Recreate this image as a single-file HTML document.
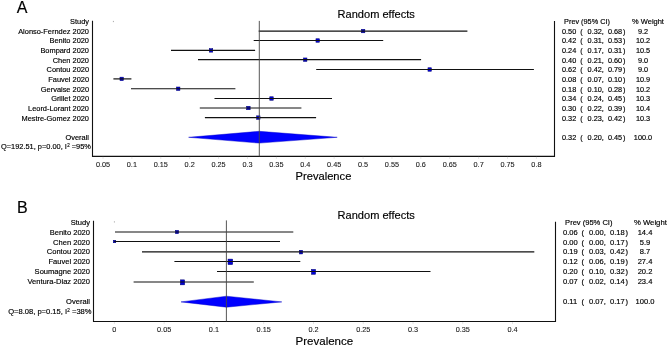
<!DOCTYPE html>
<html><head><meta charset="utf-8"><style>
html,body{margin:0;padding:0;background:#fff;}
body{width:667px;height:346px;overflow:hidden;}
svg{display:block;font-family:"Liberation Sans", sans-serif;will-change:transform;}
text{stroke:#000;stroke-width:0.16px;}
</style></head><body>
<svg width="667" height="346" viewBox="0 0 667 346">
<rect width="667" height="346" fill="#fff"/>
<text x="16.7" y="12.8" font-size="16" fill="#000">A</text>
<text x="337.6" y="17.8" font-size="11.05" fill="#000">Random effects</text>
<text x="89.0" y="24.00" font-size="7.42" text-anchor="end" fill="#000">Study</text>
<text x="89.0" y="33.65" font-size="7.42" text-anchor="end" fill="#000">Alonso-Ferndez 2020</text>
<text x="89.0" y="43.30" font-size="7.42" text-anchor="end" fill="#000">Benito 2020</text>
<text x="89.0" y="52.95" font-size="7.42" text-anchor="end" fill="#000">Bompard 2020</text>
<text x="89.0" y="62.60" font-size="7.42" text-anchor="end" fill="#000">Chen 2020</text>
<text x="89.0" y="72.25" font-size="7.42" text-anchor="end" fill="#000">Contou 2020</text>
<text x="89.0" y="81.90" font-size="7.42" text-anchor="end" fill="#000">Fauvel 2020</text>
<text x="89.0" y="91.55" font-size="7.42" text-anchor="end" fill="#000">Gervaise 2020</text>
<text x="89.0" y="101.20" font-size="7.42" text-anchor="end" fill="#000">Grillet 2020</text>
<text x="89.0" y="110.85" font-size="7.42" text-anchor="end" fill="#000">Leord-Lorant 2020</text>
<text x="89.0" y="120.50" font-size="7.42" text-anchor="end" fill="#000">Mestre-Gomez 2020</text>
<text x="89.0" y="139.80" font-size="7.42" text-anchor="end" fill="#000">Overall</text>
<text x="90.9" y="149.45" font-size="7.42" text-anchor="end" fill="#000">Q=192.51, p=0.00, I<tspan font-size="4.45" dx="0.35" dy="-2.4">2</tspan><tspan dy="2.4"> </tspan>=95%</text>
<rect x="112.9" y="20.9" width="1" height="1.2" fill="#aaa"/>
<path d="M92.5 20.8 V156.4 H554.5 V21.0" fill="none" stroke="#111" stroke-width="1.1"/>
<line x1="102.99" y1="156.9" x2="102.99" y2="158.9" stroke="#ddd" stroke-width="0.8"/>
<text x="102.99" y="167.0" font-size="7.3" text-anchor="middle" fill="#222" style="stroke-width:0.08px">0.05</text>
<line x1="131.89" y1="156.9" x2="131.89" y2="158.9" stroke="#ddd" stroke-width="0.8"/>
<text x="131.89" y="167.0" font-size="7.3" text-anchor="middle" fill="#222" style="stroke-width:0.08px">0.1</text>
<line x1="160.78" y1="156.9" x2="160.78" y2="158.9" stroke="#ddd" stroke-width="0.8"/>
<text x="160.78" y="167.0" font-size="7.3" text-anchor="middle" fill="#222" style="stroke-width:0.08px">0.15</text>
<line x1="189.68" y1="156.9" x2="189.68" y2="158.9" stroke="#ddd" stroke-width="0.8"/>
<text x="189.68" y="167.0" font-size="7.3" text-anchor="middle" fill="#222" style="stroke-width:0.08px">0.2</text>
<line x1="218.57" y1="156.9" x2="218.57" y2="158.9" stroke="#ddd" stroke-width="0.8"/>
<text x="218.57" y="167.0" font-size="7.3" text-anchor="middle" fill="#222" style="stroke-width:0.08px">0.25</text>
<line x1="247.47" y1="156.9" x2="247.47" y2="158.9" stroke="#ddd" stroke-width="0.8"/>
<text x="247.47" y="167.0" font-size="7.3" text-anchor="middle" fill="#222" style="stroke-width:0.08px">0.3</text>
<line x1="276.37" y1="156.9" x2="276.37" y2="158.9" stroke="#ddd" stroke-width="0.8"/>
<text x="276.37" y="167.0" font-size="7.3" text-anchor="middle" fill="#222" style="stroke-width:0.08px">0.35</text>
<line x1="305.26" y1="156.9" x2="305.26" y2="158.9" stroke="#ddd" stroke-width="0.8"/>
<text x="305.26" y="167.0" font-size="7.3" text-anchor="middle" fill="#222" style="stroke-width:0.08px">0.4</text>
<line x1="334.15" y1="156.9" x2="334.15" y2="158.9" stroke="#ddd" stroke-width="0.8"/>
<text x="334.15" y="167.0" font-size="7.3" text-anchor="middle" fill="#222" style="stroke-width:0.08px">0.45</text>
<line x1="363.05" y1="156.9" x2="363.05" y2="158.9" stroke="#ddd" stroke-width="0.8"/>
<text x="363.05" y="167.0" font-size="7.3" text-anchor="middle" fill="#222" style="stroke-width:0.08px">0.5</text>
<line x1="391.95" y1="156.9" x2="391.95" y2="158.9" stroke="#ddd" stroke-width="0.8"/>
<text x="391.95" y="167.0" font-size="7.3" text-anchor="middle" fill="#222" style="stroke-width:0.08px">0.55</text>
<line x1="420.84" y1="156.9" x2="420.84" y2="158.9" stroke="#ddd" stroke-width="0.8"/>
<text x="420.84" y="167.0" font-size="7.3" text-anchor="middle" fill="#222" style="stroke-width:0.08px">0.6</text>
<line x1="449.74" y1="156.9" x2="449.74" y2="158.9" stroke="#ddd" stroke-width="0.8"/>
<text x="449.74" y="167.0" font-size="7.3" text-anchor="middle" fill="#222" style="stroke-width:0.08px">0.65</text>
<line x1="478.63" y1="156.9" x2="478.63" y2="158.9" stroke="#ddd" stroke-width="0.8"/>
<text x="478.63" y="167.0" font-size="7.3" text-anchor="middle" fill="#222" style="stroke-width:0.08px">0.7</text>
<line x1="507.52" y1="156.9" x2="507.52" y2="158.9" stroke="#ddd" stroke-width="0.8"/>
<text x="507.52" y="167.0" font-size="7.3" text-anchor="middle" fill="#222" style="stroke-width:0.08px">0.75</text>
<line x1="536.42" y1="156.9" x2="536.42" y2="158.9" stroke="#ddd" stroke-width="0.8"/>
<text x="536.42" y="167.0" font-size="7.3" text-anchor="middle" fill="#222" style="stroke-width:0.08px">0.8</text>
<text x="295.6" y="180.4" font-size="11.15" fill="#000">Prevalence</text>
<rect x="361.35" y="29.30" width="3.5" height="3.5" fill="#0000d8" stroke="#000070" stroke-width="0.5"/>
<line x1="258.7" y1="31.05" x2="467.4" y2="31.05" stroke="#111" stroke-width="1.2"/>
<rect x="315.95" y="38.75" width="3.5" height="3.5" fill="#0000d8" stroke="#000070" stroke-width="0.5"/>
<line x1="253.7" y1="40.50" x2="383.2" y2="40.50" stroke="#111" stroke-width="1.2"/>
<rect x="209.25" y="48.65" width="3.5" height="3.5" fill="#0000d8" stroke="#000070" stroke-width="0.5"/>
<line x1="171.0" y1="50.40" x2="255.1" y2="50.40" stroke="#111" stroke-width="1.2"/>
<rect x="303.45" y="57.95" width="3.5" height="3.5" fill="#0000d8" stroke="#000070" stroke-width="0.5"/>
<line x1="198" y1="59.70" x2="421.1" y2="59.70" stroke="#111" stroke-width="1.2"/>
<rect x="427.95" y="67.75" width="3.5" height="3.5" fill="#0000d8" stroke="#000070" stroke-width="0.5"/>
<line x1="316.2" y1="69.50" x2="533.9" y2="69.50" stroke="#111" stroke-width="1.2"/>
<rect x="119.95" y="77.15" width="3.5" height="3.5" fill="#0000d8" stroke="#000070" stroke-width="0.5"/>
<line x1="113.4" y1="78.90" x2="131.4" y2="78.90" stroke="#111" stroke-width="1.2"/>
<rect x="176.45" y="87.00" width="3.5" height="3.5" fill="#0000d8" stroke="#000070" stroke-width="0.5"/>
<line x1="131.0" y1="88.75" x2="235.4" y2="88.75" stroke="#111" stroke-width="1.2"/>
<rect x="269.75" y="96.75" width="3.5" height="3.5" fill="#0000d8" stroke="#000070" stroke-width="0.5"/>
<line x1="214.5" y1="98.50" x2="332" y2="98.50" stroke="#111" stroke-width="1.2"/>
<rect x="246.65" y="106.25" width="3.5" height="3.5" fill="#0000d8" stroke="#000070" stroke-width="0.5"/>
<line x1="199.8" y1="108.00" x2="301.4" y2="108.00" stroke="#111" stroke-width="1.2"/>
<rect x="256.55" y="115.85" width="3.5" height="3.5" fill="#0000d8" stroke="#000070" stroke-width="0.5"/>
<line x1="204.9" y1="117.60" x2="316.1" y2="117.60" stroke="#111" stroke-width="1.2"/>
<path d="M188.6 137.3 L259.2 131.3 L337.2 137.3 L259.2 143.1 Z" fill="#0000ff" stroke="#0000c8" stroke-width="0.45"/>
<line x1="259.3" y1="20.9" x2="259.3" y2="156.4" stroke="#444" stroke-width="0.9"/>
<text x="564.1" y="24.00" font-size="7.3" fill="#000">Prev (95% CI)</text>
<text x="632.1" y="24.00" font-size="7.48" fill="#000">% Weight</text>
<text x="562" y="33.65" font-size="7.3" fill="#000">0.50</text>
<text x="580.3" y="33.65" font-size="7.3" fill="#000">(</text>
<text x="587.6" y="33.65" font-size="7.3" fill="#000">0.32,</text>
<text x="607.9" y="33.65" font-size="7.3" fill="#000">0.68<tspan dx="0.9">)</tspan></text>
<text x="643" y="33.65" font-size="7.3" text-anchor="middle" fill="#000">9.2</text>
<text x="562" y="43.30" font-size="7.3" fill="#000">0.42</text>
<text x="580.3" y="43.30" font-size="7.3" fill="#000">(</text>
<text x="587.6" y="43.30" font-size="7.3" fill="#000">0.31,</text>
<text x="607.9" y="43.30" font-size="7.3" fill="#000">0.53<tspan dx="0.9">)</tspan></text>
<text x="643" y="43.30" font-size="7.3" text-anchor="middle" fill="#000">10.2</text>
<text x="562" y="52.95" font-size="7.3" fill="#000">0.24</text>
<text x="580.3" y="52.95" font-size="7.3" fill="#000">(</text>
<text x="587.6" y="52.95" font-size="7.3" fill="#000">0.17,</text>
<text x="607.9" y="52.95" font-size="7.3" fill="#000">0.31<tspan dx="0.9">)</tspan></text>
<text x="643" y="52.95" font-size="7.3" text-anchor="middle" fill="#000">10.5</text>
<text x="562" y="62.60" font-size="7.3" fill="#000">0.40</text>
<text x="580.3" y="62.60" font-size="7.3" fill="#000">(</text>
<text x="587.6" y="62.60" font-size="7.3" fill="#000">0.21,</text>
<text x="607.9" y="62.60" font-size="7.3" fill="#000">0.60<tspan dx="0.9">)</tspan></text>
<text x="643" y="62.60" font-size="7.3" text-anchor="middle" fill="#000">9.0</text>
<text x="562" y="72.25" font-size="7.3" fill="#000">0.62</text>
<text x="580.3" y="72.25" font-size="7.3" fill="#000">(</text>
<text x="587.6" y="72.25" font-size="7.3" fill="#000">0.42,</text>
<text x="607.9" y="72.25" font-size="7.3" fill="#000">0.79<tspan dx="0.9">)</tspan></text>
<text x="643" y="72.25" font-size="7.3" text-anchor="middle" fill="#000">9.0</text>
<text x="562" y="81.90" font-size="7.3" fill="#000">0.08</text>
<text x="580.3" y="81.90" font-size="7.3" fill="#000">(</text>
<text x="587.6" y="81.90" font-size="7.3" fill="#000">0.07,</text>
<text x="607.9" y="81.90" font-size="7.3" fill="#000">0.10<tspan dx="0.9">)</tspan></text>
<text x="643" y="81.90" font-size="7.3" text-anchor="middle" fill="#000">10.9</text>
<text x="562" y="91.55" font-size="7.3" fill="#000">0.18</text>
<text x="580.3" y="91.55" font-size="7.3" fill="#000">(</text>
<text x="587.6" y="91.55" font-size="7.3" fill="#000">0.10,</text>
<text x="607.9" y="91.55" font-size="7.3" fill="#000">0.28<tspan dx="0.9">)</tspan></text>
<text x="643" y="91.55" font-size="7.3" text-anchor="middle" fill="#000">10.2</text>
<text x="562" y="101.20" font-size="7.3" fill="#000">0.34</text>
<text x="580.3" y="101.20" font-size="7.3" fill="#000">(</text>
<text x="587.6" y="101.20" font-size="7.3" fill="#000">0.24,</text>
<text x="607.9" y="101.20" font-size="7.3" fill="#000">0.45<tspan dx="0.9">)</tspan></text>
<text x="643" y="101.20" font-size="7.3" text-anchor="middle" fill="#000">10.3</text>
<text x="562" y="110.85" font-size="7.3" fill="#000">0.30</text>
<text x="580.3" y="110.85" font-size="7.3" fill="#000">(</text>
<text x="587.6" y="110.85" font-size="7.3" fill="#000">0.22,</text>
<text x="607.9" y="110.85" font-size="7.3" fill="#000">0.39<tspan dx="0.9">)</tspan></text>
<text x="643" y="110.85" font-size="7.3" text-anchor="middle" fill="#000">10.4</text>
<text x="562" y="120.50" font-size="7.3" fill="#000">0.32</text>
<text x="580.3" y="120.50" font-size="7.3" fill="#000">(</text>
<text x="587.6" y="120.50" font-size="7.3" fill="#000">0.23,</text>
<text x="607.9" y="120.50" font-size="7.3" fill="#000">0.42<tspan dx="0.9">)</tspan></text>
<text x="643" y="120.50" font-size="7.3" text-anchor="middle" fill="#000">10.3</text>
<text x="562" y="139.80" font-size="7.3" fill="#000">0.32</text>
<text x="580.3" y="139.80" font-size="7.3" fill="#000">(</text>
<text x="587.6" y="139.80" font-size="7.3" fill="#000">0.20,</text>
<text x="607.9" y="139.80" font-size="7.3" fill="#000">0.45<tspan dx="0.9">)</tspan></text>
<text x="643" y="139.80" font-size="7.3" text-anchor="middle" fill="#000">100.0</text>
<text x="16.9" y="213.2" font-size="16" fill="#000">B</text>
<text x="337.6" y="219.3" font-size="11.05" fill="#000">Random effects</text>
<text x="90.0" y="224.60" font-size="7.55" text-anchor="end" fill="#000">Study</text>
<text x="90.0" y="234.55" font-size="7.55" text-anchor="end" fill="#000">Benito 2020</text>
<text x="90.0" y="244.50" font-size="7.55" text-anchor="end" fill="#000">Chen 2020</text>
<text x="90.0" y="254.45" font-size="7.55" text-anchor="end" fill="#000">Contou 2020</text>
<text x="90.0" y="264.40" font-size="7.55" text-anchor="end" fill="#000">Fauvel 2020</text>
<text x="90.0" y="274.35" font-size="7.55" text-anchor="end" fill="#000">Soumagne 2020</text>
<text x="90.0" y="284.30" font-size="7.55" text-anchor="end" fill="#000">Ventura-Diaz 2020</text>
<text x="90.0" y="304.20" font-size="7.55" text-anchor="end" fill="#000">Overall</text>
<text x="91.5" y="314.15" font-size="7.55" text-anchor="end" fill="#000">Q=8.08, p=0.15, I<tspan font-size="4.53" dx="0.35" dy="-2.4">2</tspan><tspan dy="2.4"> </tspan>=38%</text>
<rect x="113.9" y="221.3" width="1" height="1.2" fill="#aaa"/>
<path d="M93.5 220.8 V321.5 H555.5 V221.8" fill="none" stroke="#111" stroke-width="1.1"/>
<line x1="114.40" y1="322.0" x2="114.40" y2="324.0" stroke="#ddd" stroke-width="0.8"/>
<text x="114.40" y="332.0" font-size="7.3" text-anchor="middle" fill="#222" style="stroke-width:0.08px">0</text>
<line x1="164.17" y1="322.0" x2="164.17" y2="324.0" stroke="#ddd" stroke-width="0.8"/>
<text x="164.17" y="332.0" font-size="7.3" text-anchor="middle" fill="#222" style="stroke-width:0.08px">0.05</text>
<line x1="213.93" y1="322.0" x2="213.93" y2="324.0" stroke="#ddd" stroke-width="0.8"/>
<text x="213.93" y="332.0" font-size="7.3" text-anchor="middle" fill="#222" style="stroke-width:0.08px">0.1</text>
<line x1="263.69" y1="322.0" x2="263.69" y2="324.0" stroke="#ddd" stroke-width="0.8"/>
<text x="263.69" y="332.0" font-size="7.3" text-anchor="middle" fill="#222" style="stroke-width:0.08px">0.15</text>
<line x1="313.46" y1="322.0" x2="313.46" y2="324.0" stroke="#ddd" stroke-width="0.8"/>
<text x="313.46" y="332.0" font-size="7.3" text-anchor="middle" fill="#222" style="stroke-width:0.08px">0.2</text>
<line x1="363.23" y1="322.0" x2="363.23" y2="324.0" stroke="#ddd" stroke-width="0.8"/>
<text x="363.23" y="332.0" font-size="7.3" text-anchor="middle" fill="#222" style="stroke-width:0.08px">0.25</text>
<line x1="412.99" y1="322.0" x2="412.99" y2="324.0" stroke="#ddd" stroke-width="0.8"/>
<text x="412.99" y="332.0" font-size="7.3" text-anchor="middle" fill="#222" style="stroke-width:0.08px">0.3</text>
<line x1="462.75" y1="322.0" x2="462.75" y2="324.0" stroke="#ddd" stroke-width="0.8"/>
<text x="462.75" y="332.0" font-size="7.3" text-anchor="middle" fill="#222" style="stroke-width:0.08px">0.35</text>
<line x1="512.52" y1="322.0" x2="512.52" y2="324.0" stroke="#ddd" stroke-width="0.8"/>
<text x="512.52" y="332.0" font-size="7.3" text-anchor="middle" fill="#222" style="stroke-width:0.08px">0.4</text>
<text x="295.6" y="344.5" font-size="11.5" fill="#000">Prevalence</text>
<rect x="175.30" y="230.35" width="3.4" height="3.3" fill="#0000d8" stroke="#000070" stroke-width="0.5"/>
<line x1="115" y1="232.00" x2="293.3" y2="232.00" stroke="#111" stroke-width="1.2"/>
<rect x="113.25" y="240.25" width="2.5" height="2.5" fill="#0000d8" stroke="#000070" stroke-width="0.5"/>
<line x1="114.2" y1="241.50" x2="280" y2="241.50" stroke="#111" stroke-width="1.2"/>
<rect x="299.35" y="250.25" width="3.3" height="3.7" fill="#0000d8" stroke="#000070" stroke-width="0.5"/>
<line x1="142" y1="251.80" x2="534.3" y2="251.80" stroke="#111" stroke-width="1.2"/>
<rect x="228.00" y="259.10" width="4.7" height="5.5" fill="#0000d8" stroke="#000070" stroke-width="0.5"/>
<line x1="174.4" y1="261.50" x2="300.3" y2="261.50" stroke="#111" stroke-width="1.2"/>
<rect x="311.40" y="269.40" width="4.2" height="4.9" fill="#0000d8" stroke="#000070" stroke-width="0.5"/>
<line x1="217" y1="271.50" x2="430.5" y2="271.50" stroke="#111" stroke-width="1.2"/>
<rect x="180.35" y="279.85" width="4.3" height="5.0" fill="#0000d8" stroke="#000070" stroke-width="0.5"/>
<line x1="133.6" y1="282.00" x2="253.8" y2="282.00" stroke="#111" stroke-width="1.2"/>
<path d="M181.0 301.9 L226.5 296.2 L281.8 301.9 L226.5 307.2 Z" fill="#0000ff" stroke="#0000c8" stroke-width="0.45"/>
<line x1="226.4" y1="220.4" x2="226.4" y2="321.5" stroke="#444" stroke-width="0.9"/>
<text x="565.1" y="224.60" font-size="7.55" fill="#000">Prev (95% CI)</text>
<text x="633.9" y="224.60" font-size="7.74" fill="#000">% Weight</text>
<text x="563" y="234.55" font-size="7.55" fill="#000">0.06</text>
<text x="581.6" y="234.55" font-size="7.55" fill="#000">(</text>
<text x="589" y="234.55" font-size="7.55" fill="#000">0.00,</text>
<text x="610" y="234.55" font-size="7.55" fill="#000">0.18<tspan dx="0.9">)</tspan></text>
<text x="645" y="234.55" font-size="7.55" text-anchor="middle" fill="#000">14.4</text>
<text x="563" y="244.50" font-size="7.55" fill="#000">0.00</text>
<text x="581.6" y="244.50" font-size="7.55" fill="#000">(</text>
<text x="589" y="244.50" font-size="7.55" fill="#000">0.00,</text>
<text x="610" y="244.50" font-size="7.55" fill="#000">0.17<tspan dx="0.9">)</tspan></text>
<text x="645" y="244.50" font-size="7.55" text-anchor="middle" fill="#000">5.9</text>
<text x="563" y="254.45" font-size="7.55" fill="#000">0.19</text>
<text x="581.6" y="254.45" font-size="7.55" fill="#000">(</text>
<text x="589" y="254.45" font-size="7.55" fill="#000">0.03,</text>
<text x="610" y="254.45" font-size="7.55" fill="#000">0.42<tspan dx="0.9">)</tspan></text>
<text x="645" y="254.45" font-size="7.55" text-anchor="middle" fill="#000">8.7</text>
<text x="563" y="264.40" font-size="7.55" fill="#000">0.12</text>
<text x="581.6" y="264.40" font-size="7.55" fill="#000">(</text>
<text x="589" y="264.40" font-size="7.55" fill="#000">0.06,</text>
<text x="610" y="264.40" font-size="7.55" fill="#000">0.19<tspan dx="0.9">)</tspan></text>
<text x="645" y="264.40" font-size="7.55" text-anchor="middle" fill="#000">27.4</text>
<text x="563" y="274.35" font-size="7.55" fill="#000">0.20</text>
<text x="581.6" y="274.35" font-size="7.55" fill="#000">(</text>
<text x="589" y="274.35" font-size="7.55" fill="#000">0.10,</text>
<text x="610" y="274.35" font-size="7.55" fill="#000">0.32<tspan dx="0.9">)</tspan></text>
<text x="645" y="274.35" font-size="7.55" text-anchor="middle" fill="#000">20.2</text>
<text x="563" y="284.30" font-size="7.55" fill="#000">0.07</text>
<text x="581.6" y="284.30" font-size="7.55" fill="#000">(</text>
<text x="589" y="284.30" font-size="7.55" fill="#000">0.02,</text>
<text x="610" y="284.30" font-size="7.55" fill="#000">0.14<tspan dx="0.9">)</tspan></text>
<text x="645" y="284.30" font-size="7.55" text-anchor="middle" fill="#000">23.4</text>
<text x="563" y="304.20" font-size="7.55" fill="#000">0.11</text>
<text x="581.6" y="304.20" font-size="7.55" fill="#000">(</text>
<text x="589" y="304.20" font-size="7.55" fill="#000">0.07,</text>
<text x="610" y="304.20" font-size="7.55" fill="#000">0.17<tspan dx="0.9">)</tspan></text>
<text x="645" y="304.20" font-size="7.55" text-anchor="middle" fill="#000">100.0</text>
</svg>
</body></html>
